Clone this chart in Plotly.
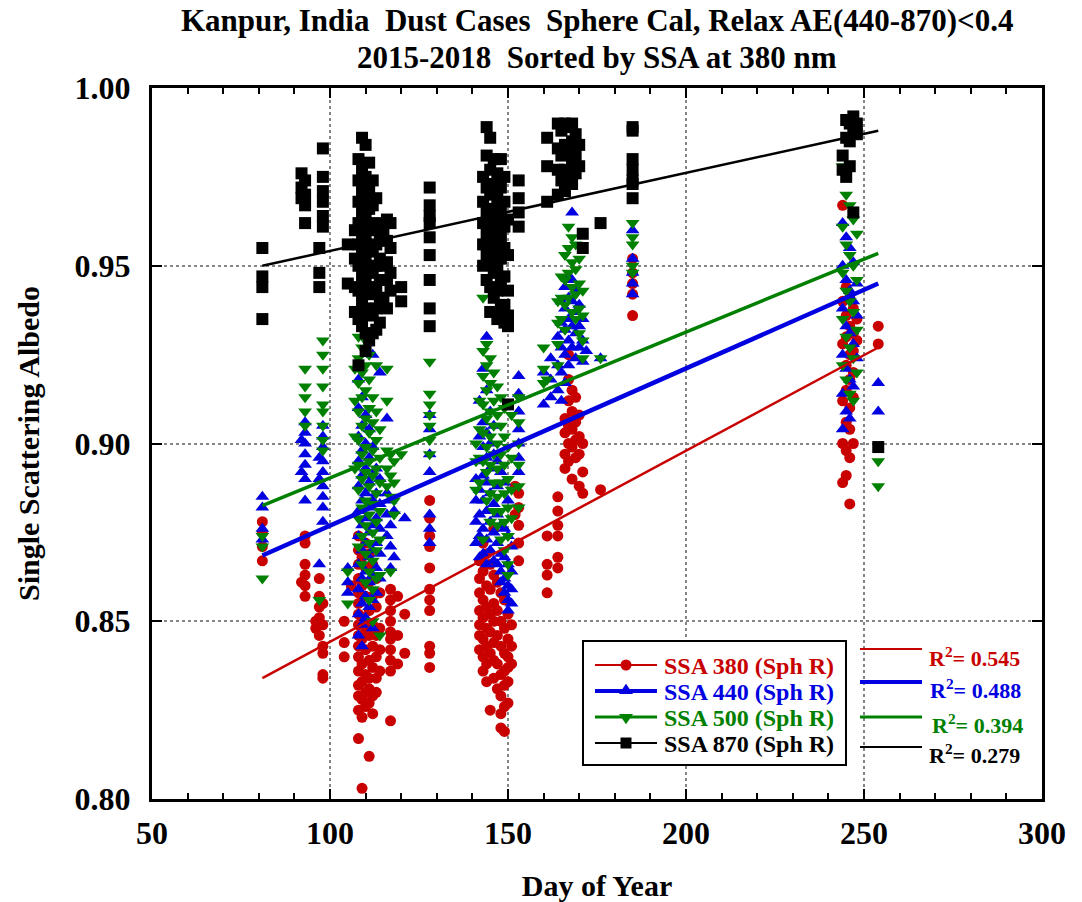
import plotly.graph_objects as go

# ---------------- data ----------------
# each series: list of (day of year, [SSA values observed on that day])
ssa380 = [
    (81, [0.878, 0.875, 0.871, 0.867]),
    (92, [0.861]),
    (93, [0.874, 0.872, 0.866, 0.863, 0.860, 0.857]),
    (96, [0.850, 0.848]),
    (97, [0.862, 0.857, 0.854, 0.851, 0.846]),
    (98, [0.855, 0.849, 0.843, 0.841, 0.835, 0.834]),
    (104, [0.850, 0.844, 0.840]),
    (106, [0.860]),
    (108, [0.874, 0.870, 0.866, 0.862, 0.858, 0.855, 0.852, 0.849, 0.846, 0.843, 0.840, 0.836, 0.832, 0.829, 0.825, 0.817]),
    (109, [0.868, 0.860, 0.851, 0.845, 0.838, 0.833, 0.828, 0.823, 0.803]),
    (110, [0.872, 0.865, 0.857, 0.850, 0.847, 0.842, 0.835, 0.830, 0.826]),
    (111, [0.869, 0.861, 0.853, 0.846, 0.839, 0.834, 0.831, 0.827, 0.812]),
    (112, [0.866, 0.857, 0.849, 0.843, 0.837, 0.829, 0.824]),
    (113, [0.862, 0.854, 0.846, 0.840, 0.834, 0.830]),
    (114, [0.858, 0.848, 0.842, 0.836]),
    (117, [0.859, 0.856, 0.853, 0.850, 0.847, 0.845, 0.842, 0.839, 0.836, 0.822]),
    (119, [0.857, 0.846, 0.838]),
    (121, [0.852, 0.841]),
    (128, [0.884, 0.879, 0.874, 0.871, 0.865, 0.859, 0.856, 0.853, 0.843, 0.841, 0.837]),
    (142, [0.867, 0.862, 0.858, 0.853, 0.849, 0.846, 0.842]),
    (143, [0.872, 0.864, 0.856, 0.851, 0.845, 0.840, 0.836]),
    (144, [0.869, 0.860, 0.854, 0.848, 0.843, 0.838, 0.833]),
    (145, [0.866, 0.859, 0.852, 0.847, 0.841, 0.825]),
    (146, [0.876, 0.863, 0.855, 0.850, 0.844, 0.839, 0.834]),
    (147, [0.861, 0.853, 0.846, 0.838, 0.831]),
    (148, [0.858, 0.850, 0.843, 0.835, 0.829, 0.824, 0.820]),
    (149, [0.856, 0.848, 0.841, 0.836, 0.832, 0.826, 0.819]),
    (150, [0.852, 0.845, 0.840, 0.837, 0.833, 0.827]),
    (151, [0.849, 0.843, 0.838]),
    (152, [0.888, 0.880]),
    (153, [0.886, 0.882, 0.877, 0.872, 0.867]),
    (161, [0.874, 0.866, 0.863, 0.858]),
    (164, [0.885, 0.881, 0.877, 0.874, 0.868, 0.865]),
    (166, [0.907, 0.903, 0.897, 0.893]),
    (167, [0.925, 0.918, 0.912, 0.905, 0.900, 0.895]),
    (168, [0.915, 0.909, 0.904, 0.899, 0.890]),
    (169, [0.913, 0.906, 0.901, 0.896]),
    (170, [0.908, 0.902, 0.897, 0.888]),
    (171, [0.900, 0.892, 0.886]),
    (176, [0.887]),
    (185, [0.952, 0.948, 0.945, 0.942, 0.936]),
    (244, [0.967, 0.940, 0.928, 0.912, 0.900, 0.889]),
    (245, [0.944, 0.936, 0.930, 0.922, 0.915, 0.906, 0.898, 0.891]),
    (246, [0.941, 0.933, 0.925, 0.918, 0.910, 0.904, 0.896, 0.883]),
    (247, [0.938, 0.931, 0.926, 0.920, 0.913, 0.900]),
    (248, [0.935, 0.929]),
    (254, [0.933, 0.928]),
]

ssa440 = [
    (81, [0.885, 0.882, 0.876, 0.873]),
    (92, [0.901, 0.892]),
    (93, [0.906, 0.903, 0.900, 0.897, 0.894, 0.890, 0.884]),
    (97, [0.896, 0.890, 0.866]),
    (98, [0.905, 0.902, 0.899, 0.895, 0.892, 0.888, 0.885, 0.882, 0.878]),
    (105, [0.865, 0.861, 0.858]),
    (108, [0.918, 0.910, 0.902, 0.895, 0.888, 0.881, 0.874, 0.866, 0.859, 0.852, 0.846]),
    (109, [0.913, 0.905, 0.898, 0.891, 0.884, 0.877, 0.870, 0.862, 0.855, 0.849, 0.843]),
    (110, [0.908, 0.900, 0.893, 0.886, 0.879, 0.872, 0.864, 0.857, 0.851]),
    (111, [0.904, 0.896, 0.889, 0.882, 0.875, 0.868, 0.861, 0.854]),
    (112, [0.925, 0.899, 0.891, 0.884, 0.877, 0.870, 0.863, 0.856, 0.848]),
    (113, [0.893, 0.886, 0.879, 0.872, 0.865, 0.858]),
    (114, [0.920, 0.890, 0.883, 0.876, 0.869, 0.862]),
    (116, [0.907, 0.886, 0.880, 0.874]),
    (117, [0.884, 0.877, 0.871, 0.865]),
    (118, [0.881, 0.868]),
    (121, [0.879]),
    (128, [0.908, 0.904, 0.897, 0.892, 0.880, 0.876, 0.872]),
    (141, [0.890, 0.884, 0.878, 0.872]),
    (142, [0.912, 0.902, 0.895, 0.887, 0.880, 0.874, 0.868]),
    (143, [0.921, 0.906, 0.899, 0.891, 0.884, 0.876, 0.869]),
    (144, [0.930, 0.915, 0.903, 0.896, 0.889, 0.881, 0.873, 0.866]),
    (145, [0.909, 0.900, 0.893, 0.886, 0.878, 0.870]),
    (146, [0.905, 0.897, 0.883, 0.875, 0.867]),
    (147, [0.895, 0.888, 0.880, 0.872, 0.866]),
    (148, [0.892, 0.877, 0.869, 0.864, 0.861]),
    (149, [0.889, 0.876, 0.868, 0.862, 0.858]),
    (150, [0.884, 0.874, 0.866, 0.860, 0.856, 0.853]),
    (151, [0.871, 0.864, 0.859, 0.855]),
    (153, [0.919, 0.914, 0.909, 0.904, 0.900, 0.896, 0.892]),
    (160, [0.920, 0.911]),
    (162, [0.924, 0.918, 0.913]),
    (164, [0.930, 0.922, 0.915]),
    (165, [0.940, 0.934, 0.927, 0.920, 0.912]),
    (166, [0.944, 0.938, 0.932, 0.925, 0.917]),
    (167, [0.947, 0.941, 0.935, 0.929, 0.922]),
    (168, [0.965, 0.946, 0.940, 0.933, 0.927]),
    (169, [0.943, 0.937, 0.931, 0.924]),
    (170, [0.939, 0.933, 0.927]),
    (171, [0.935, 0.929, 0.923]),
    (172, [0.926]),
    (176, [0.924]),
    (185, [0.960, 0.952, 0.948, 0.945, 0.942]),
    (244, [0.962, 0.950, 0.938, 0.925, 0.914, 0.904]),
    (245, [0.958, 0.946, 0.933, 0.921, 0.909]),
    (246, [0.955, 0.943, 0.931, 0.918, 0.907]),
    (247, [0.951, 0.940, 0.928, 0.916]),
    (248, [0.945, 0.936, 0.924]),
    (254, [0.917, 0.909]),
]

ssa500 = [
    (81, [0.874, 0.871, 0.862]),
    (93, [0.921, 0.916, 0.913, 0.909, 0.905]),
    (97, [0.856]),
    (98, [0.929, 0.925, 0.921, 0.916, 0.911, 0.909, 0.905, 0.901, 0.898]),
    (105, [0.864, 0.855]),
    (107, [0.921, 0.912, 0.902, 0.893]),
    (108, [0.930, 0.924, 0.917, 0.909, 0.901, 0.894, 0.887, 0.879, 0.871]),
    (109, [0.927, 0.920, 0.913, 0.905, 0.897, 0.890, 0.882, 0.874, 0.866]),
    (110, [0.929, 0.922, 0.915, 0.907, 0.899, 0.892, 0.884, 0.877, 0.869, 0.861]),
    (111, [0.925, 0.918, 0.910, 0.903, 0.895, 0.888, 0.880, 0.872, 0.864, 0.856]),
    (112, [0.913, 0.906, 0.898, 0.891, 0.883, 0.875, 0.867, 0.859, 0.850]),
    (113, [0.922, 0.909, 0.901, 0.893, 0.886, 0.878, 0.870, 0.862]),
    (114, [0.904, 0.896, 0.889, 0.881, 0.873, 0.863, 0.846]),
    (116, [0.921, 0.912, 0.898, 0.893, 0.888]),
    (117, [0.897, 0.891, 0.885, 0.864]),
    (118, [0.895, 0.889, 0.884, 0.880]),
    (120, [0.897]),
    (128, [0.923, 0.914, 0.911, 0.908, 0.905, 0.901, 0.897]),
    (141, [0.900, 0.895, 0.887]),
    (142, [0.912, 0.904, 0.896, 0.889]),
    (143, [0.941, 0.926, 0.919, 0.911, 0.903, 0.895, 0.873]),
    (144, [0.928, 0.922, 0.915, 0.907, 0.899, 0.892, 0.884]),
    (145, [0.924, 0.917, 0.909, 0.902, 0.894, 0.886, 0.878]),
    (146, [0.920, 0.912, 0.905, 0.897, 0.889, 0.881]),
    (147, [0.916, 0.908, 0.900, 0.893, 0.885, 0.877]),
    (148, [0.913, 0.905, 0.897, 0.889, 0.881, 0.873]),
    (149, [0.910, 0.902, 0.894, 0.886, 0.878, 0.870]),
    (150, [0.899, 0.890, 0.882, 0.874, 0.866, 0.863]),
    (151, [0.908, 0.896, 0.887, 0.879]),
    (153, [0.913, 0.906, 0.900, 0.894, 0.888, 0.882]),
    (160, [0.927, 0.921, 0.917]),
    (161, [0.918]),
    (164, [0.940, 0.934, 0.928, 0.922]),
    (165, [0.947, 0.941, 0.935]),
    (166, [0.953, 0.946, 0.939, 0.932]),
    (167, [0.961, 0.955, 0.948, 0.941]),
    (168, [0.958, 0.951, 0.944, 0.937]),
    (169, [0.956, 0.949, 0.942, 0.935]),
    (170, [0.952, 0.945, 0.938, 0.931]),
    (171, [0.943, 0.936, 0.929, 0.924]),
    (176, [0.924]),
    (185, [0.962, 0.958, 0.956, 0.950, 0.948]),
    (244, [0.978, 0.961, 0.948, 0.935, 0.922]),
    (245, [0.970, 0.956, 0.943, 0.930, 0.918]),
    (246, [0.967, 0.953, 0.940, 0.927, 0.914]),
    (247, [0.963, 0.950, 0.937, 0.924, 0.912]),
    (248, [0.959, 0.946, 0.932, 0.920]),
    (254, [0.895, 0.888]),
]

ssa870 = [
    (81, [0.955, 0.947, 0.944, 0.935]),
    (92, [0.976, 0.972, 0.969]),
    (93, [0.974, 0.970, 0.967, 0.962]),
    (97, [0.955, 0.948, 0.944]),
    (98, [0.983, 0.975, 0.971, 0.968, 0.964, 0.961]),
    (105, [0.956, 0.945]),
    (107, [0.960, 0.952, 0.944, 0.937]),
    (108, [0.980, 0.974, 0.968, 0.962, 0.956, 0.950, 0.943, 0.935, 0.922]),
    (109, [0.986, 0.977, 0.971, 0.965, 0.959, 0.953, 0.947, 0.940, 0.933]),
    (110, [0.984, 0.975, 0.969, 0.963, 0.957, 0.951, 0.945, 0.938, 0.931, 0.926]),
    (111, [0.979, 0.972, 0.966, 0.960, 0.954, 0.948, 0.942, 0.936, 0.929]),
    (112, [0.974, 0.967, 0.961, 0.955, 0.949, 0.943, 0.937, 0.931]),
    (113, [0.969, 0.962, 0.956, 0.950, 0.944, 0.938, 0.932]),
    (114, [0.958, 0.952, 0.946, 0.940, 0.934]),
    (115, [0.960, 0.950, 0.941]),
    (116, [0.963, 0.957, 0.951, 0.946, 0.938]),
    (117, [0.962, 0.955, 0.948, 0.943]),
    (120, [0.944, 0.940]),
    (128, [0.972, 0.967, 0.964, 0.962, 0.958, 0.953, 0.946, 0.938, 0.933]),
    (143, [0.975, 0.968, 0.962, 0.956, 0.950]),
    (144, [0.989, 0.981, 0.972, 0.965, 0.959, 0.953, 0.946]),
    (145, [0.986, 0.977, 0.970, 0.963, 0.957, 0.951, 0.944, 0.937]),
    (146, [0.980, 0.973, 0.966, 0.960, 0.954, 0.948, 0.941]),
    (147, [0.976, 0.969, 0.962, 0.956, 0.950, 0.943, 0.935]),
    (148, [0.980, 0.972, 0.965, 0.958, 0.952, 0.946, 0.938]),
    (149, [0.975, 0.968, 0.961, 0.955, 0.947, 0.939, 0.934]),
    (150, [0.963, 0.953, 0.943, 0.936, 0.933, 0.911]),
    (153, [0.974, 0.969, 0.965, 0.961]),
    (161, [0.986, 0.978, 0.968]),
    (164, [0.990, 0.983, 0.977, 0.970]),
    (165, [0.988, 0.981, 0.974]),
    (166, [0.990, 0.984, 0.977, 0.971]),
    (167, [0.989, 0.982, 0.975]),
    (168, [0.990, 0.985, 0.979, 0.973]),
    (169, [0.987, 0.981, 0.976]),
    (170, [0.984, 0.978]),
    (171, [0.959, 0.955]),
    (176, [0.962]),
    (185, [0.989, 0.988, 0.980, 0.977, 0.974, 0.973, 0.969]),
    (244, [0.981, 0.977]),
    (245, [0.991, 0.986, 0.975]),
    (246, [0.990, 0.985, 0.978]),
    (247, [0.992, 0.988, 0.965]),
    (248, [0.990, 0.987]),
    (254, [0.899]),
]

# linear-fit end points (day of year) and values, with R^2
fit_days = [81, 254]
fit380 = [0.834, 0.927]
fit440 = [0.8685, 0.945]
fit500 = [0.8825, 0.9535]
fit870 = [0.950, 0.988]
r2_labels = ["0.545", "0.488", "0.394", "0.279"]
series_names = ["SSA 380 (Sph R)", "SSA 440 (Sph R)", "SSA 500 (Sph R)", "SSA 870 (Sph R)"]
title_lines = ["Kanpur, India\u00a0 Dust Cases\u00a0 Sphere Cal, Relax AE(440-870)<0.4",
               "2015-2018\u00a0 Sorted by SSA at 380 nm"]

# ---------------- styling ----------------
FONT = "Liberation Serif"
colors = ["#c80000", "#0000e0", "#008000", "#000000"]
symbols = ["circle", "triangle-up", "triangle-down", "square"]
msizes = [11, 12, 12, 12]
lwidths = [2.5, 4.5, 3.5, 2.5]

# figure geometry (pixels) used to place legend decorations in paper units
W, H = 1082, 902
ML, MR, MT, MB = 152, 40, 88, 103
PW, PH = W - ML - MR, H - MT - MB


def px_x(px):
    return (px - ML) / PW


def px_y(py):
    return (H - MB - py) / PH


def flatten(groups):
    xs, ys = [], []
    for d, vals in groups:
        for v in vals:
            xs.append(d)
            ys.append(v)
    return xs, ys


all_series = [ssa380, ssa440, ssa500, ssa870]
all_fits = [fit380, fit440, fit500, fit870]

fig = go.Figure()

for i, grp in enumerate(all_series):
    xs, ys = flatten(grp)
    fig.add_trace(go.Scatter(
        x=xs, y=ys, mode="markers", showlegend=False, name=series_names[i],
        marker=dict(symbol=symbols[i], size=msizes[i], color=colors[i], line=dict(width=0)),
        hoverinfo="x+y+name",
    ))

for i, fv in enumerate(all_fits):
    fig.add_trace(go.Scatter(
        x=fit_days, y=fv, mode="lines", showlegend=False,
        line=dict(color=colors[i], width=lwidths[i]), hoverinfo="skip",
    ))

shapes = []
annotations = []

# ---- legend box (drawn as decorations) ----
shapes.append(dict(type="rect", xref="paper", yref="paper", layer="above",
                   x0=px_x(583), x1=px_x(846), y0=px_y(765), y1=px_y(641),
                   fillcolor="white", line=dict(color="black", width=2)))
leg_rows = [665, 691, 717, 743]
mx = 626
for i in range(4):
    cy = leg_rows[i]
    shapes.append(dict(type="line", xref="paper", yref="paper", layer="above",
                       x0=px_x(595), x1=px_x(657), y0=px_y(cy), y1=px_y(cy),
                       line=dict(color=colors[i], width=lwidths[i] - 0.5)))
    if symbols[i] == "circle":
        r = 5.5
        shapes.append(dict(type="circle", xref="paper", yref="paper", layer="above",
                           x0=px_x(mx - r), x1=px_x(mx + r), y0=px_y(cy + r), y1=px_y(cy - r),
                           fillcolor=colors[i], line=dict(width=0)))
    elif symbols[i] == "square":
        r = 5.5
        shapes.append(dict(type="rect", xref="paper", yref="paper", layer="above",
                           x0=px_x(mx - r), x1=px_x(mx + r), y0=px_y(cy + r), y1=px_y(cy - r),
                           fillcolor=colors[i], line=dict(width=0)))
    else:
        hw, hh = 7, 6
        s = -1 if symbols[i] == "triangle-up" else 1
        p = (f"M {px_x(mx - hw)},{px_y(cy - s * hh * 0.5)} "
             f"L {px_x(mx + hw)},{px_y(cy - s * hh * 0.5)} "
             f"L {px_x(mx)},{px_y(cy + s * hh * 1.2)} Z")
        shapes.append(dict(type="path", xref="paper", yref="paper", layer="above", path=p,
                           fillcolor=colors[i], line=dict(width=0)))
    annotations.append(dict(xref="paper", yref="paper", x=px_x(662), y=px_y(cy + 1),
                            xanchor="left", yanchor="middle", showarrow=False,
                            text=series_names[i],
                            font=dict(family=FONT, size=24, color=colors[i], weight="bold")))

# ---- R^2 labels with short coloured segments ----
seg_py = [649, 682, 717, 747]
txt_py = [657, 689, 724, 754]
txt_px = [927, 928, 930, 927]
for i in range(4):
    shapes.append(dict(type="line", xref="paper", yref="paper",
                       x0=px_x(860), x1=px_x(922), y0=px_y(seg_py[i]), y1=px_y(seg_py[i]),
                       line=dict(color=colors[i], width=lwidths[i] - 0.5)))
    annotations.append(dict(xref="paper", yref="paper", x=px_x(txt_px[i]), y=px_y(txt_py[i]),
                            xanchor="left", yanchor="middle", showarrow=False,
                            text=f"R<sup>2</sup>= {r2_labels[i]}",
                            font=dict(family=FONT, size=22, color=colors[i], weight="bold")))

# ---- two-line title ----
for j, py in enumerate([21, 57]):
    annotations.append(dict(xref="paper", yref="paper", x=0.5, y=px_y(py),
                            xanchor="center", yanchor="middle", showarrow=False,
                            text=title_lines[j],
                            font=dict(family=FONT, size=31, color="black", weight="bold")))

axis_common = dict(
    showline=True, linecolor="black", linewidth=3, mirror="allticks",
    ticks="inside", ticklen=10, tickwidth=2, tickcolor="black",
    showgrid=True, gridcolor="#858585", gridwidth=2, griddash="dot",
    zeroline=False, automargin=False,
    tickfont=dict(family=FONT, size=32, color="black", weight="bold"),
)

fig.update_layout(
    width=W, height=H,
    margin=dict(l=ML, r=MR, t=MT, b=MB),
    paper_bgcolor="white", plot_bgcolor="white",
    xaxis=dict(
        range=[50, 300], tick0=50, dtick=50,
        minor=dict(dtick=10, ticks="inside", ticklen=6, tickwidth=2, tickcolor="black", showgrid=False),
        ticklabelstandoff=4,
        title=dict(text="Day of Year", standoff=35,
                   font=dict(family=FONT, size=30, color="black", weight="bold")),
        **axis_common,
    ),
    yaxis=dict(
        range=[0.80, 1.00], tick0=0.80, dtick=0.05, tickformat=".2f",
        ticklabelstandoff=12,
        title=dict(text="Single Scattering Albedo", standoff=27,
                   font=dict(family=FONT, size=30, color="black", weight="bold")),
        **axis_common,
    ),
    shapes=shapes,
    annotations=annotations,
    showlegend=False,
)

fig.write_html("out.html")
